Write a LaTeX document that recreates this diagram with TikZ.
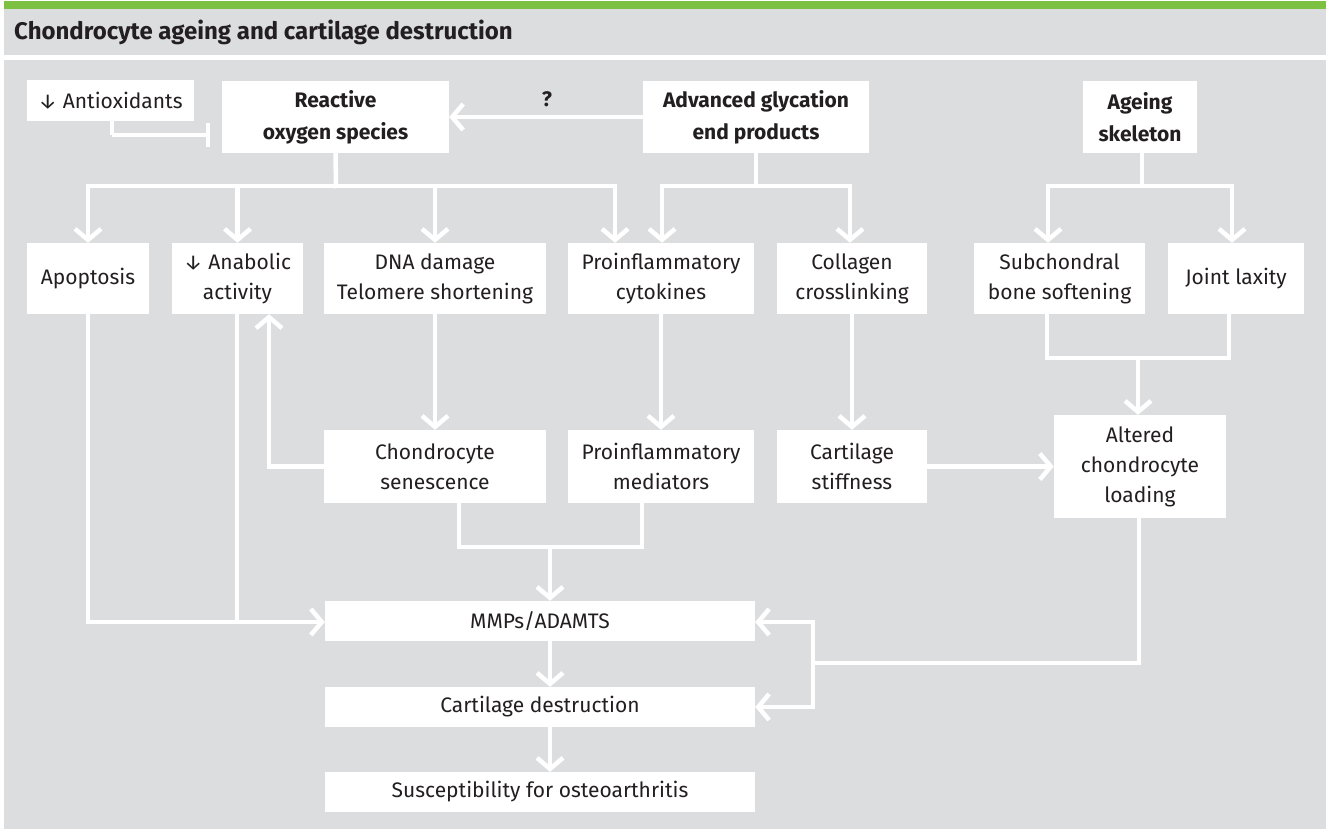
\documentclass[tikz,border=0pt]{standalone}
\usepackage{fontspec}
\setmainfont{Fira Sans}
\usetikzlibrary{arrows.meta}
\definecolor{bggray}{HTML}{DCDDDF}
\definecolor{topgreen}{HTML}{7CC142}
\definecolor{txt}{HTML}{231F20}
\begin{document}
\begin{tikzpicture}[x=1pt,y=-1pt,
  box/.style={fill=white, draw=none, inner sep=0pt, align=center, text=txt,
              font=\fontsize{21}{30}\selectfont},
  bbox/.style={box, font=\fontsize{21}{32}\selectfont\bfseries},
  conn/.style={draw=white, line width=4.5pt, line cap=rect},
  arr/.style={draw=white, line width=4.5pt,
              -{Straight Barb[length=11pt,width=26pt]}},
  inh/.style={draw=white, line width=4.5pt, -{Bar[width=24pt]}}]
\useasboundingbox (0,0) rectangle (1326,829);
\fill[white] (0,0) rectangle (1326,829);
\fill[topgreen] (4,1) rectangle (1326,9);
\fill[bggray] (4,9) rectangle (1326,55);
\fill[bggray] (4,60) rectangle (1326,829);
\node[anchor=base west, text=txt, font=\fontsize{24}{26}\selectfont\bfseries, inner sep=0pt]
  (title) at (14,40) {Chondrocyte ageing and cartilage destruction};

% nodes
\node[box, minimum width=167, minimum height=41] (anti) at (110.5,100.5) {↓ Antioxidants};
\node[bbox, minimum width=227, minimum height=72] (ros) at (335.5,117) {Reactive\\oxygen species};
\node[bbox, minimum width=226, minimum height=72] (age) at (756,117) {Advanced glycation\\end products};
\node[bbox, minimum width=114, minimum height=72] (skel) at (1140,117) {Ageing\\skeleton};
\node[text=txt, font=\fontsize{21}{24}\selectfont\bfseries, inner sep=0pt] (q) at (547,99) {?};

\node[box, minimum width=122, minimum height=71] (apop) at (88,278.5) {Apoptosis};
\node[box, minimum width=131, minimum height=71] (anab) at (237.5,278.5) {↓ Anabolic\\activity};
\node[box, minimum width=222, minimum height=71] (dna) at (435,278.5) {DNA damage\\Telomere shortening};
\node[box, minimum width=186, minimum height=71] (cyto) at (661,278.5) {Proinflammatory\\cytokines};
\node[box, minimum width=150, minimum height=71] (coll) at (852,278.5) {Collagen\\crosslinking};
\node[box, minimum width=171, minimum height=71] (subc) at (1059.5,278.5) {Subchondral\\bone softening};
\node[box, minimum width=136, minimum height=71] (lax) at (1236,278.5) {Joint laxity};

\node[box, minimum width=222, minimum height=73] (sen) at (435,466.5) {Chondrocyte\\senescence};
\node[box, minimum width=186, minimum height=73] (med) at (661,466.5) {Proinflammatory\\mediators};
\node[box, minimum width=150, minimum height=73] (stiff) at (852,466.5) {Cartilage\\stiffness};
\node[box, minimum width=172, minimum height=103] (alt) at (1140,466.5) {Altered\\chondrocyte\\loading};

\node[box, minimum width=430, minimum height=40] (mmp) at (540,621) {MMPs/ADAMTS};
\node[box, minimum width=430, minimum height=40] (dest) at (540,707) {Cartilage destruction};
\node[box, minimum width=430, minimum height=40] (susc) at (540,792) {Susceptibility for osteoarthritis};

% junction coordinates
\coordinate (rosj) at (336,186);
\coordinate (agej) at (756,186);
\coordinate (skelj) at (1142,186);
\coordinate (bonej) at (1138,358);
\coordinate (senj) at (550,547);
\coordinate (mmpl) at (88,622);
\coordinate (altj) at (813,663);
\coordinate (anti1) at (112,135);

% inhibition
\draw[conn, line cap=butt] (112,121) -- (anti1);
\draw[inh] (anti1) -- (210,135);

% AGE -> ROS
\draw[arr] (age.west |- 0,117) -- (ros.east |- 0,117);

% ROS fan-out
\draw[conn] (ros.south) -- (rosj);
\draw[conn] (88,186) -- (615,186);
\draw[arr] (88,186) -- (apop.north);
\draw[arr] (237.5,186) -- (anab.north);
\draw[arr] (435,186) -- (dna.north);
\draw[arr] (615,186) -- (615,0 |- cyto.north);

% AGE fan-out
\draw[conn] (age.south) -- (agej);
\draw[conn] (662,186) -- (850,186);
\draw[arr] (662,186) -- (662,0 |- cyto.north);
\draw[arr] (850,186) -- (850,0 |- coll.north);

% skeleton fan-out
\draw[conn] (skel.south -| skelj) -- (skelj);
\draw[conn] (1048,186) -- (1232,186);
\draw[arr] (1048,186) -- (1048,0 |- subc.north);
\draw[arr] (1232,186) -- (1232,0 |- lax.north);

% second row
\draw[arr] (dna.south) -- (sen.north);
\draw[arr] (cyto.south) -- (med.north);
\draw[arr] (coll.south) -- (stiff.north);
\draw[conn] (subc.south -| 1047,0) -- (1047,358) -- (1229,358) -- (lax.south -| 1229,0);
\draw[arr] (bonej) -- (bonej |- alt.north);
\draw[arr] (stiff.east) -- (stiff.east -| alt.west);
\draw[arr] (sen.west) -- (269,466.5) -- (269,0 |- anab.south);

% to MMPs
\draw[conn] (sen.south -| 459,0) -- (459,547) -- (642,547) -- (med.south -| 642,0);
\draw[arr] (senj) -- (senj |- mmp.north);
\draw[conn] (apop.south) -- (mmpl);
\draw[conn] (anab.south -| 237,0) -- (237,622);
\draw[arr] (mmpl) -- (mmp.west |- mmpl);

\draw[arr] (mmp.south -| 550,0) -- (dest.north -| 550,0);
\draw[arr] (dest.south -| 550,0) -- (susc.north -| 550,0);

% altered loading feedback
\draw[conn] (alt.south -| 1139,0) -- (1139,663) -- (altj);
\draw[conn] (813,622) -- (813,707);
\draw[arr] (813,622) -- (mmp.east |- 0,622);
\draw[arr] (813,707) -- (dest.east);
\end{tikzpicture}
\end{document}
